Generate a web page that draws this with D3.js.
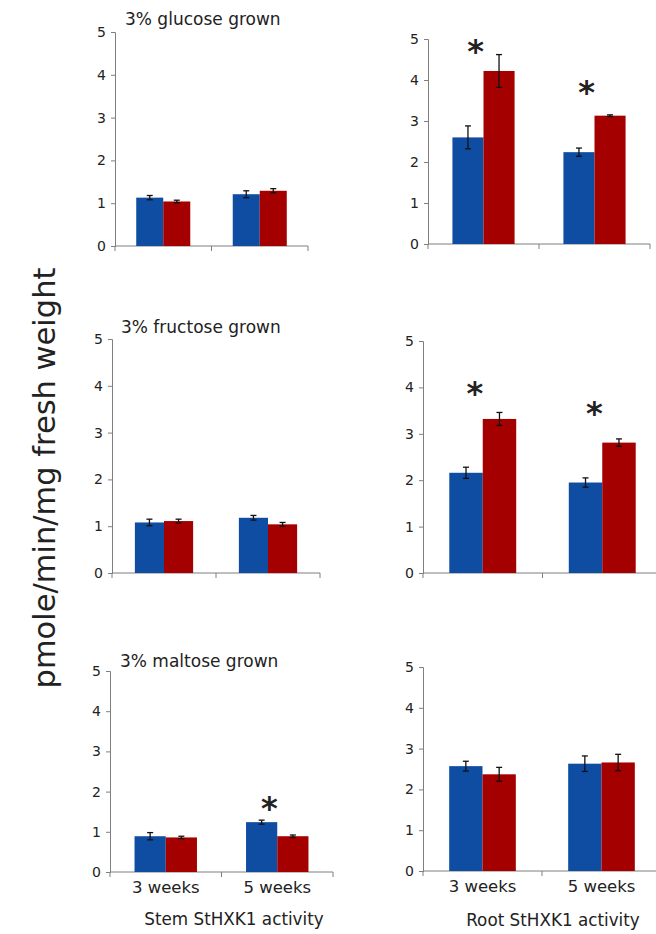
<!DOCTYPE html>
<html>
<head>
<meta charset="utf-8">
<script src="https://cdn.jsdelivr.net/npm/d3@7"></script>
<style>
  html, body { margin: 0; padding: 0; background: #fff; }
  svg { display: block; }
  text { font-family: "DejaVu Sans", sans-serif; fill: #222; }
</style>
</head>
<body>
<svg id="chart" width="656" height="934"></svg>
<script>
// ---------- DATA ----------
const categories = ["3 weeks", "5 weeks"];
const panelTitles = ["3% glucose grown", "", "3% fructose grown", "", "3% maltose grown", ""];
const yTicks = [0, 1, 2, 3, 4, 5];

// Blue series (left bar) and red series (right bar), per panel
const glucoseStemBlue = [1.13, 1.21], glucoseStemRed = [1.04, 1.29];
const glucoseStemBlueErr = [0.05, 0.08], glucoseStemRedErr = [0.03, 0.05];
const glucoseRootBlue = [2.60, 2.24], glucoseRootRed = [4.22, 3.13];
const glucoseRootBlueErr = [0.28, 0.10], glucoseRootRedErr = [0.40, 0.02];

const fructoseStemBlue = [1.08, 1.18], fructoseStemRed = [1.11, 1.04];
const fructoseStemBlueErr = [0.07, 0.05], fructoseStemRedErr = [0.04, 0.04];
const fructoseRootBlue = [2.16, 1.95], fructoseRootRed = [3.32, 2.81];
const fructoseRootBlueErr = [0.12, 0.10], fructoseRootRedErr = [0.14, 0.08];

const maltoseStemBlue = [0.89, 1.24], maltoseStemRed = [0.86, 0.89];
const maltoseStemBlueErr = [0.09, 0.05], maltoseStemRedErr = [0.03, 0.03];
const maltoseRootBlue = [2.57, 2.63], maltoseRootRed = [2.37, 2.66];
const maltoseRootBlueErr = [0.12, 0.19], maltoseRootRedErr = [0.17, 0.20];

// significance asterisk heights (value units), null = none
const glucoseStemStars = [null, null], glucoseRootStars = [4.81, 3.81];
const fructoseStemStars = [null, null], fructoseRootStars = [3.96, 3.53];
const maltoseStemStars = [null, 1.70], maltoseRootStars = [null, null];

const yAxisLabel = "pmole/min/mg fresh weight";
const xAxisTitles = ["Stem StHXK1 activity", "Root StHXK1 activity"];

// ---------- LAYOUT ----------
const colors = ["#0f4da2", "#a50000"];
const panels = [
  { x0: 115, x1: 308, yT: 32,  yB: 246, blue: glucoseStemBlue, red: glucoseStemRed, be: glucoseStemBlueErr, re: glucoseStemRedErr, stars: glucoseStemStars, title: panelTitles[0], tx: 125, ty: 25 },
  { x0: 428, x1: 650, yT: 39,  yB: 244, blue: glucoseRootBlue, red: glucoseRootRed, be: glucoseRootBlueErr, re: glucoseRootRedErr, stars: glucoseRootStars, title: panelTitles[1] },
  { x0: 112, x1: 320, yT: 339, yB: 573, blue: fructoseStemBlue, red: fructoseStemRed, be: fructoseStemBlueErr, re: fructoseStemRedErr, stars: fructoseStemStars, title: panelTitles[2], tx: 121, ty: 333 },
  { x0: 423, x1: 662, yT: 341, yB: 573, blue: fructoseRootBlue, red: fructoseRootRed, be: fructoseRootBlueErr, re: fructoseRootRedErr, stars: fructoseRootStars, title: panelTitles[3] },
  { x0: 110, x1: 333, yT: 671, yB: 872, blue: maltoseStemBlue, red: maltoseStemRed, be: maltoseStemBlueErr, re: maltoseStemRedErr, stars: maltoseStemStars, title: panelTitles[4], tx: 120, ty: 667, xlabels: true },
  { x0: 423, x1: 661, yT: 667, yB: 871, blue: maltoseRootBlue, red: maltoseRootRed, be: maltoseRootBlueErr, re: maltoseRootRedErr, stars: maltoseRootStars, title: panelTitles[5], xlabels: true }
];

const svg = d3.select("#chart");
const axisColor = "#7f7f7f";

panels.forEach(p => {
  const g = svg.append("g");
  const x = d3.scaleBand().domain(categories).range([p.x0, p.x1]).paddingInner(0.44).paddingOuter(0.22);
  const xs = d3.scaleBand().domain([0, 1]).range([0, x.bandwidth()]);
  const y = d3.scaleLinear().domain([0, 5]).range([p.yB, p.yT]);

  // y axis
  const ya = g.append("g").attr("transform", `translate(${p.x0},0)`)
    .call(d3.axisLeft(y).tickValues(yTicks).tickSize(4).tickPadding(5).tickFormat(d3.format("d")));
  ya.select(".domain").attr("stroke", axisColor);
  ya.selectAll(".tick line").attr("stroke", axisColor);
  ya.selectAll(".tick text").style("font-size", "14px").attr("fill", "#222").style("font-family", '"DejaVu Sans", sans-serif');

  // x axis line + ticks at boundaries
  const boundaries = [p.x0, (p.x0 + p.x1) / 2, p.x1];
  g.append("line").attr("x1", p.x0).attr("x2", p.x1).attr("y1", p.yB).attr("y2", p.yB).attr("stroke", axisColor);
  g.selectAll(".xt").data(boundaries).enter().append("line")
    .attr("x1", d => d).attr("x2", d => d).attr("y1", p.yB).attr("y2", p.yB + 5).attr("stroke", axisColor);

  // bars
  const rows = [];
  categories.forEach((c, i) => {
    rows.push({ c, s: 0, v: p.blue[i], e: p.be[i] });
    rows.push({ c, s: 1, v: p.red[i], e: p.re[i] });
  });
  g.selectAll(".bar").data(rows).enter().append("rect")
    .attr("x", d => x(d.c) + xs(d.s))
    .attr("width", xs.bandwidth())
    .attr("y", d => y(d.v))
    .attr("height", d => y(0) - y(d.v))
    .attr("fill", d => colors[d.s]);

  // error bars
  const cap = 3;
  rows.forEach(d => {
    const cx = x(d.c) + xs(d.s) + xs.bandwidth() / 2;
    g.append("line").attr("x1", cx).attr("x2", cx).attr("y1", y(d.v + d.e)).attr("y2", y(d.v - d.e)).attr("stroke", "#111").attr("stroke-width", 1.3);
    [d.v + d.e, d.v - d.e].forEach(v => {
      g.append("line").attr("x1", cx - cap).attr("x2", cx + cap).attr("y1", y(v)).attr("y2", y(v)).attr("stroke", "#111").attr("stroke-width", 1.3);
    });
  });

  // stars
  categories.forEach((c, i) => {
    const s = p.stars[i];
    if (s == null) return;
    g.append("text")
      .attr("x", x(c) + x.bandwidth() / 2 - 8)
      .attr("y", y(s) + 15)
      .attr("text-anchor", "middle")
      .style("font-size", "32px")
      .style("font-weight", "bold")
      .style("font-family", '"DejaVu Sans", sans-serif')
      .attr("fill", "#111")
      .text("*");
  });

  // title
  if (p.title) {
    g.append("text").attr("x", p.tx).attr("y", p.ty).style("font-size", "17px").text(p.title);
  }

  // x labels
  if (p.xlabels) {
    g.selectAll(".xl").data(categories).enter().append("text")
      .attr("x", d => x(d) + x.bandwidth() / 2)
      .attr("y", p.yB + 21)
      .attr("text-anchor", "middle")
      .style("font-size", "16.5px")
      .text(d => d);
  }
});

// x axis titles
svg.append("text").attr("x", 234).attr("y", 925).attr("text-anchor", "middle").style("font-size", "16.8px").text(xAxisTitles[0]);
svg.append("text").attr("x", 553).attr("y", 926).attr("text-anchor", "middle").style("font-size", "16.8px").text(xAxisTitles[1]);

// y axis label
svg.append("text")
  .attr("transform", "translate(55,478) rotate(-90)")
  .attr("text-anchor", "middle")
  .style("font-size", "30.5px")
  .text(yAxisLabel);
</script>
</body>
</html>
